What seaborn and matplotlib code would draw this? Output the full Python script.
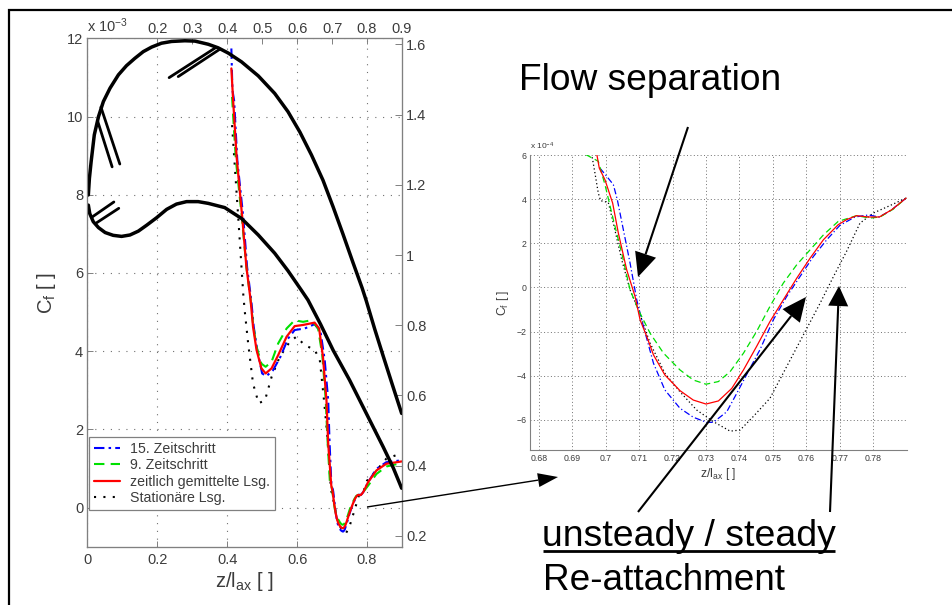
"""
Skin friction coefficient along the blade, with a zoom on the separation bubble
"""

import numpy as np
import matplotlib.pyplot as plt
import seaborn as sns

# Separation region, Cf in units of 1e-4 (right hand plot)
z_red = [0.6973, 0.6981, 0.6998, 0.7021, 0.7038, 0.7063, 0.7088, 0.7103, 0.7123, 0.7143, 0.7177, 0.7222, 0.7262, 0.7300, 0.7337, 0.7377, 0.7412, 0.7451, 0.7491, 0.7531, 0.7571, 0.7611, 0.7651, 0.7695, 0.7720, 0.7750, 0.7785, 0.7818, 0.7855, 0.7898]
cf_red = [6.1, 5.42, 4.89, 3.83, 2.47, 0.80, -0.41, -1.47, -2.23, -3.06, -3.97, -4.68, -5.11, -5.29, -5.15, -4.58, -3.74, -2.68, -1.55, -0.56, 0.42, 1.33, 2.17, 2.85, 3.08, 3.26, 3.20, 3.20, 3.53, 4.06]

z_green = [0.6941, 0.6978, 0.6998, 0.7023, 0.7048, 0.7073, 0.7098, 0.7133, 0.7173, 0.7222, 0.7262, 0.7300, 0.7337, 0.7372, 0.7412, 0.7451, 0.7491, 0.7531, 0.7571, 0.7611, 0.7651, 0.7695, 0.7750, 0.7790, 0.7820, 0.7860, 0.7898]
cf_green = [6.03, 5.73, 4.67, 3.08, 1.56, -0.11, -1.02, -2.08, -2.98, -3.74, -4.20, -4.39, -4.27, -3.82, -2.98, -2.0, -0.86, 0.20, 1.03, 1.71, 2.39, 3.0, 3.26, 3.15, 3.2, 3.56, 4.06]

z_blue = [0.6983, 0.7003, 0.7023, 0.7035, 0.7053, 0.7073, 0.7093, 0.7113, 0.7143, 0.7177, 0.7222, 0.7262, 0.7302, 0.7322, 0.7362, 0.7392, 0.7426, 0.7461, 0.7501, 0.7541, 0.7581, 0.7621, 0.7661, 0.7700, 0.7745, 0.7785, 0.7818, 0.7855, 0.7898]
cf_blue = [5.42, 5.05, 4.67, 3.98, 2.62, 1.11, -0.56, -1.77, -3.44, -4.65, -5.48, -5.89, -6.12, -6.12, -5.64, -4.80, -3.82, -2.83, -1.47, -0.41, 0.50, 1.41, 2.17, 2.82, 3.2, 3.29, 3.2, 3.53, 4.06]

z_dot = [0.6958, 0.6968, 0.6978, 0.6985, 0.7008, 0.7023, 0.7048, 0.7073, 0.7098, 0.7133, 0.7177, 0.7222, 0.7272, 0.7322, 0.7372, 0.7402, 0.7441, 0.7491, 0.7541, 0.7591, 0.7641, 0.7681, 0.7720, 0.7760, 0.7800, 0.7840, 0.7898]
cf_dot = [6.08, 5.2, 4.29, 3.94, 3.86, 2.92, 1.26, -0.11, -1.02, -2.53, -3.89, -4.73, -5.56, -6.09, -6.52, -6.47, -5.86, -5.03, -3.59, -2.15, -0.71, 0.50, 1.64, 2.92, 3.38, 3.65, 4.06]

# Rest of the main plot, Cf in units of 1e-3, before and after the region above
z_red_a = [0.412, 0.417, 0.427, 0.443, 0.455, 0.467, 0.474, 0.484, 0.498, 0.510, 0.527, 0.546, 0.570, 0.593, 0.617, 0.650, 0.663, 0.674, 0.684, 0.689]
cf_red_a = [11.23, 10.42, 8.97, 7.43, 6.15, 5.31, 4.62, 4.03, 3.56, 3.43, 3.56, 3.90, 4.37, 4.64, 4.67, 4.73, 4.58, 3.85, 2.74, 1.63]
z_red_b = [0.803, 0.827, 0.855, 0.899]
cf_red_b = [0.65, 0.95, 1.12, 1.18]

z_green_a = [0.414, 0.417, 0.425, 0.441, 0.455, 0.467, 0.474, 0.484, 0.498, 0.510, 0.527, 0.546, 0.570, 0.593, 0.617, 0.641, 0.660, 0.672, 0.682, 0.686]
cf_green_a = [10.5, 10.03, 8.88, 7.51, 6.15, 5.31, 4.7, 4.11, 3.68, 3.6, 3.73, 4.2, 4.58, 4.79, 4.75, 4.79, 4.58, 3.9, 2.74, 1.89]
z_green_b = [0.803, 0.827, 0.855, 0.899]
cf_green_b = [0.56, 0.86, 1.05, 1.14]

z_blue_a = [0.412, 0.415, 0.420, 0.429, 0.446, 0.457, 0.469, 0.476, 0.486, 0.500, 0.512, 0.531, 0.552, 0.574, 0.593, 0.622, 0.650, 0.667, 0.679, 0.689, 0.693]
cf_blue_a = [11.74, 10.68, 10.4, 8.88, 7.43, 6.15, 5.29, 4.62, 4.03, 3.43, 3.36, 3.51, 3.85, 4.32, 4.54, 4.58, 4.69, 4.5, 3.77, 2.74, 1.63]
z_blue_b = [0.803, 0.827, 0.855, 0.899]
cf_blue_b = [0.65, 0.99, 1.16, 1.21]

z_dot_a = [0.414, 0.422, 0.431, 0.446, 0.450, 0.460, 0.474, 0.490, 0.508, 0.527, 0.550, 0.579, 0.598, 0.622, 0.650, 0.665, 0.676, 0.686]
cf_dot_a = [9.78, 8.71, 7.51, 5.46, 5.05, 4.2, 3.17, 2.67, 2.74, 3.34, 3.85, 4.24, 4.37, 4.15, 4.04, 3.77, 2.83, 1.89]
z_dot_b = [0.80, 0.827, 0.855, 0.899]
cf_dot_b = [0.69, 0.95, 1.25, 1.39]

# Black curves, read against the right hand axis
z_upper = [0.003, 0.006, 0.011, 0.020, 0.032, 0.046, 0.065, 0.089, 0.112, 0.136, 0.160, 0.184, 0.212, 0.241, 0.279, 0.308, 0.346, 0.374, 0.403, 0.441, 0.489, 0.536, 0.574, 0.608, 0.641, 0.674, 0.703, 0.731, 0.760, 0.786, 0.798, 0.822, 0.846, 0.872, 0.899]
m_upper = [1.171, 1.218, 1.266, 1.342, 1.394, 1.437, 1.475, 1.513, 1.539, 1.560, 1.579, 1.592, 1.603, 1.608, 1.610, 1.609, 1.600, 1.590, 1.575, 1.550, 1.510, 1.460, 1.408, 1.350, 1.285, 1.213, 1.137, 1.060, 0.978, 0.906, 0.869, 0.789, 0.713, 0.632, 0.549]
z_lower = [0.003, 0.007, 0.017, 0.032, 0.051, 0.074, 0.098, 0.122, 0.146, 0.170, 0.198, 0.227, 0.255, 0.284, 0.317, 0.346, 0.393, 0.441, 0.489, 0.536, 0.574, 0.612, 0.631, 0.667, 0.703, 0.750, 0.798, 0.846, 0.875, 0.899]
m_lower = [1.142, 1.118, 1.095, 1.078, 1.064, 1.056, 1.053, 1.057, 1.068, 1.085, 1.106, 1.130, 1.145, 1.152, 1.152, 1.147, 1.135, 1.104, 1.057, 1.005, 0.955, 0.900, 0.872, 0.803, 0.729, 0.644, 0.549, 0.454, 0.394, 0.336]

# Short double strokes on the black curves
z_strokes = [[0.234, 0.365], [0.260, 0.379], [0.039, 0.093], [0.030, 0.071], [0.015, 0.076], [0.027, 0.090]]
m_strokes = [[1.505, 1.589], [1.508, 1.586], [1.421, 1.259], [1.380, 1.251], [1.109, 1.151], [1.092, 1.133]]

series_names = ['15. Zeitschritt', '9. Zeitschritt', 'zeitlich gemittelte Lsg.', 'Stationäre Lsg.']
series_colors = ['#0000ff', '#00e000', '#ff0000', 'black']

main_x_ticks = [0, 0.2, 0.4, 0.6, 0.8]
main_x_labels = ['0', '0.2', '0.4', '0.6', '0.8']
main_y_ticks = [0, 2, 4, 6, 8, 10, 12]
top_ticks = [0.2, 0.3, 0.4, 0.5, 0.6, 0.7, 0.8, 0.9]
right_ticks = [0.2, 0.4, 0.6, 0.8, 1, 1.2, 1.4, 1.6]
right_labels = ['0.2', '0.4', '0.6', '0.8', '1', '1.2', '1.4', '1.6']
inset_x_ticks = [0.68, 0.69, 0.70, 0.71, 0.72, 0.73, 0.74, 0.75, 0.76, 0.77, 0.78]
inset_x_labels = ['0.68', '0.69', '0.7', '0.71', '0.72', '0.73', '0.74', '0.75', '0.76', '0.77', '0.78']
inset_y_ticks = [-6, -4, -2, 0, 2, 4, 6]

W, H = 952, 605
AXIS_GRAY = '#808080'
TEXT_GRAY = '#3c3c3c'

sns.set_style('white')
plt.rcParams['font.family'] = ['Liberation Sans', 'DejaVu Sans']
plt.rcParams['mathtext.fontset'] = 'custom'
plt.rcParams['mathtext.rm'] = 'Liberation Sans'
plt.rcParams['mathtext.it'] = 'Liberation Sans'
plt.rcParams['mathtext.default'] = 'regular'


def px_axes(fig, left, top, right, bottom):
    return fig.add_axes([left / W, 1 - bottom / H, (right - left) / W, (bottom - top) / H])


def style_axis(ax, size, tick_len):
    for spine in ax.spines.values():
        spine.set_color(AXIS_GRAY)
        spine.set_linewidth(0.8)
    ax.tick_params(direction='in', length=tick_len, width=0.7, color=AXIS_GRAY,
                   labelsize=size, labelcolor=TEXT_GRAY, pad=3)


fig = plt.figure(figsize=(W / 100, H / 100), dpi=100)

# Main plot
ax = px_axes(fig, 87.3, 38.3, 402, 546.7)
main_lines = [
    (z_blue_a + z_blue + z_blue_b, cf_blue_a + [v / 10 for v in cf_blue] + cf_blue_b, (0, (5, 2, 1.2, 2)), 1.5),
    (z_green_a + z_green + z_green_b, cf_green_a + [v / 10 for v in cf_green] + cf_green_b, (0, (5, 3)), 1.5),
    (z_red_a + z_red + z_red_b, cf_red_a + [v / 10 for v in cf_red] + cf_red_b, '-', 1.6),
    (z_dot_a + z_dot + z_dot_b, cf_dot_a + [v / 10 for v in cf_dot] + cf_dot_b, (0, (1, 3.5)), 1.5),
]
draw_order = [3, 0, 1, 2]
for i in draw_order:
    xs, ys, ls, lw = main_lines[i]
    sns.lineplot(x=xs, y=ys, ax=ax, color=series_colors[i], linestyle=ls, linewidth=lw,
                 label=series_names[i], sort=False, estimator=None, errorbar=None)
ax.set_xlim(0, 0.9)
ax.set_ylim(-1, 12)
ax.set_xticks(main_x_ticks, main_x_labels)
ax.set_yticks(main_y_ticks)
ax.grid(True, color='#707070', linestyle=(0, (1, 6)), linewidth=0.8)
style_axis(ax, 10.5, 4)
ax.tick_params(axis='x', pad=4.5)
ax.set_xlabel(r'z/l$_{ax}$ [ ]', fontsize=14.5, color=TEXT_GRAY, labelpad=2)
ax.set_ylabel(r'C$_{f}$ [ ]', fontsize=14.5, color=TEXT_GRAY, labelpad=6, y=0.50)

handles, labels = ax.get_legend_handles_labels()
order = [labels.index(n) for n in series_names]
leg = ax.legend([handles[i] for i in order], [labels[i] for i in order], loc='lower left',
                bbox_to_anchor=(0.0054, 0.0722), borderaxespad=0, frameon=True, fancybox=False,
                framealpha=1, edgecolor='#808080', fontsize=10.15, labelcolor=TEXT_GRAY,
                handlelength=1.85, handletextpad=0.7, labelspacing=0.17, borderpad=0.35)
leg.get_frame().set_linewidth(0.9)

ax_top = ax.twiny()
ax_top.set_xlim(0, 0.9)
ax_top.set_xticks(top_ticks, [str(t) for t in top_ticks])
style_axis(ax_top, 10.5, 4)
ax_top.tick_params(pad=1.5)

ax_right = ax.twinx()
ax_right.set_ylim(0.1695, 1.617)
ax_right.set_yticks(right_ticks, right_labels)
style_axis(ax_right, 10.5, 5)
sns.lineplot(x=z_upper, y=m_upper, ax=ax_right, color='black', linewidth=2.5, sort=False, estimator=None, errorbar=None)
sns.lineplot(x=z_lower, y=m_lower, ax=ax_right, color='black', linewidth=2.5, sort=False, estimator=None, errorbar=None)
for zs, ms in zip(z_strokes, m_strokes):
    sns.lineplot(x=zs, y=ms, ax=ax_right, color='black', linewidth=2.0, sort=False, estimator=None, errorbar=None)
ax_right.set_ylabel('')
ax_right.set_xlim(0, 0.9)

# Zoomed plot
ins = px_axes(fig, 530, 155.3, 906.8, 450.3)
for zs, cs, i, ls in [(z_dot, cf_dot, 3, (0, (1, 2))), (z_blue, cf_blue, 0, (0, (5, 2, 1, 2))),
                      (z_green, cf_green, 1, (0, (5, 3))), (z_red, cf_red, 2, '-')]:
    sns.lineplot(x=zs, y=cs, ax=ins, color=series_colors[i], linestyle=ls,
                 linewidth=0.9, sort=False, estimator=None, errorbar=None)
ins.set_xlim(0.6774, 0.7900)
ins.set_ylim(-7.39, 6)
ins.set_xticks(inset_x_ticks, inset_x_labels)
ins.set_yticks(inset_y_ticks, [str(v).replace('-', '\u2212') for v in inset_y_ticks])
ins.grid(True, color='#707070', linestyle=(0, (1, 2.5)), linewidth=0.7)
style_axis(ins, 6.3, 3)
ins.spines['top'].set_visible(False)
ins.spines['right'].set_visible(False)
ins.tick_params(pad=2.5)
ins.set_xlabel(r'z/l$_{ax}$ [ ]', fontsize=8.8, color=TEXT_GRAY, labelpad=2.5)
ins.set_ylabel(r'C$_{f}$ [ ]', fontsize=8.8, color=TEXT_GRAY, labelpad=4)

# Overlay in picture pixels for the frame, call-outs and notes
ov = fig.add_axes([0, 0, 1, 1], zorder=10)
ov.set_xlim(0, W)
ov.set_ylim(H, 0)
ov.axis('off')
ov.patch.set_alpha(0)


def arrow(start, tip, lw=1.5, head_len=24, head_w=22):
    start = np.array(start, dtype=float)
    tip = np.array(tip, dtype=float)
    u = (tip - start) / np.linalg.norm(tip - start)
    n = np.array([-u[1], u[0]])
    base = tip - u * head_len
    ov.plot([start[0], base[0]], [start[1], base[1]], color='black', lw=lw, solid_capstyle='butt')
    corners = [tip, base + n * head_w / 2, base - n * head_w / 2]
    ov.fill([c[0] for c in corners], [c[1] for c in corners], color='black', lw=0)


arrow((688, 127), (638, 277))
arrow((367, 507), (558, 477), lw=1.0, head_len=20, head_w=14)
arrow((638, 512), (806, 297))
arrow((830, 512), (839, 286), head_w=20, head_len=20)

# Frame on the left and top only
ov.plot([8.5, 8.5, W], [H, 9.5, 9.5], color='black', lw=1.6, solid_joinstyle='miter')

ov.text(519, 90, 'Flow separation', fontsize=26.7, color='black', ha='left', va='baseline')
ov.text(542.5, 546.5, 'unsteady / steady', fontsize=26.9, color='black', ha='left', va='baseline')
ov.plot([542.5, 834.5], [551, 551], color='black', lw=2.0, solid_capstyle='butt')
ov.text(543, 590, 'Re-attachment', fontsize=26.6, color='black', ha='left', va='baseline')
ov.text(87, 32, r'x 10$^{-3}$', fontsize=10.5, color=TEXT_GRAY, ha='left', va='baseline')
ov.text(530, 149, r'x 10$^{-4}$', fontsize=6, color=TEXT_GRAY, ha='left', va='baseline')

plt.savefig('out.png', dpi=100)
plt.close()
